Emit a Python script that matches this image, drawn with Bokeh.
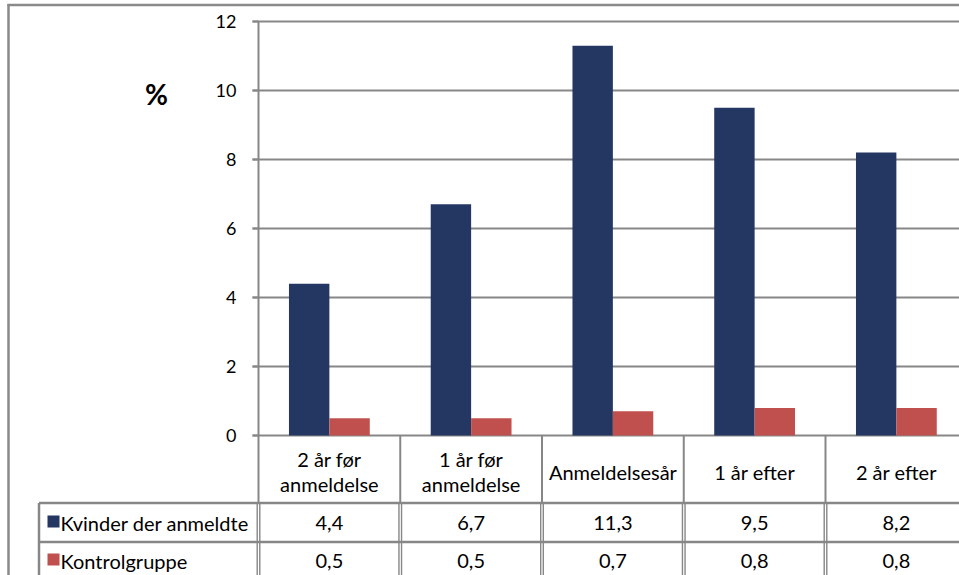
from bokeh.plotting import figure
from bokeh.models import FixedTicker, Range1d
from bokeh.core.properties import value
from bokeh.embed import file_html
from bokeh.resources import INLINE

# ---------------- data ----------------
categories = ["2 år før\nanmeldelse", "1 år før\nanmeldelse", "Anmeldelsesår", "1 år efter", "2 år efter"]
series_names = ["Kvinder der anmeldte", "Kontrolgruppe"]
kvinder = [4.4, 6.7, 11.3, 9.5, 8.2]
kontrol = [0.5, 0.5, 0.7, 0.8, 0.8]
y_ticks = [0, 2, 4, 6, 8, 10, 12]
y_title = "%"

NAVY = "#243763"
RED = "#C0504D"
GRID = "#878787"
FONT = "Lato"
FS_TICK = "18px"
FS = "20px"

# ---------------- layout helpers (canvas pixel -> data) ----------------
W, H = 959, 575
PX_X, PX_Y = 141.75, 34.5
OX, OY = 258.0, 435.0


def dx(px):
    return (px - OX) / PX_X


def dy(py):
    return (OY - py) / PX_Y


p = figure(width=W, height=H, output_backend="svg", toolbar_location=None,
           x_range=Range1d(dx(0), dx(W)), y_range=Range1d(dy(H), dy(0)),
           x_axis_location=None, y_axis_location="left",
           min_border=0, min_border_left=0, min_border_right=0,
           min_border_top=0, min_border_bottom=0)
p.outline_line_color = None
p.background_fill_color = "white"
p.border_fill_color = "white"
p.xgrid.visible = False
p.ygrid.visible = False

# gridlines (0..12), starting at the tick marks
n = len(categories)
p.segment(x0=[dx(252)] * len(y_ticks), x1=[dx(W + 2)] * len(y_ticks), y0=y_ticks, y1=y_ticks,
          line_color=GRID, line_width=2)

# bars
bw = 0.285
centers = [i + 0.5 for i in range(n)]
p.vbar(x=[c - bw / 2 for c in centers], top=kvinder, width=bw, bottom=0,
       fill_color=NAVY, line_color=None)
p.vbar(x=[c + bw / 2 for c in centers], top=kontrol, width=bw, bottom=0,
       fill_color=RED, line_color=None)

# y axis at category boundary 0
ax = p.yaxis[0]
ax.fixed_location = 0
ax.ticker = FixedTicker(ticks=y_ticks)
ax.bounds = (0, 12)
ax.axis_line_color = GRID
ax.axis_line_width = 2
ax.major_tick_line_color = GRID
ax.major_tick_line_width = 2
ax.major_tick_out = 6
ax.major_tick_in = 0
ax.minor_tick_line_color = None
ax.major_label_standoff = 16
ax.major_label_text_font = FONT
ax.major_label_text_font_size = FS_TICK
ax.major_label_text_color = "black"

# y title
p.text(x=[dx(156)], y=[dy(93)], text=[y_title], text_font=value(FONT), text_font_style="bold",
       text_font_size="28px", text_align="center", text_baseline="middle", text_color="black")

# ---------------- data table ----------------
row1_bot = dy(502.5)
row2_bot = dy(541.5)
bottom = dy(H + 5)
left_tab = dx(38.5)
right_end = dx(W + 3)

# row 1 vertical separators (single)
p.segment(x0=list(range(0, n)), x1=list(range(0, n)), y0=[0] * n, y1=[row1_bot] * n,
          line_color=GRID, line_width=2)
# rows 2-3 vertical separators (double)
vx = list(range(0, n))
p.segment(x0=vx, x1=vx, y0=[row1_bot] * n, y1=[bottom] * n, line_color=GRID, line_width=4)
p.segment(x0=vx, x1=vx, y0=[row1_bot] * n, y1=[bottom] * n, line_color="white", line_width=1.2)
# left edge of label column
p.segment(x0=[left_tab], x1=[left_tab], y0=[row1_bot], y1=[bottom], line_color=GRID, line_width=2.5)
# horizontal row separators
p.segment(x0=[left_tab, left_tab], x1=[right_end, right_end], y0=[row1_bot, row2_bot],
          y1=[row1_bot, row2_bot], line_color=GRID, line_width=2.5)

# category labels
p.text(x=centers, y=[dy(471)] * n, text=categories, text_font=value(FONT), text_font_size=FS,
       text_align="center", text_baseline="middle", text_color="black", text_line_height=1.05)


def fmt(v):
    return f"{v:.1f}".replace(".", ",")


row_ys = [dy(522), dy(560)]
for vals, yy in zip([kvinder, kontrol], row_ys):
    p.text(x=centers, y=[yy] * n, text=[fmt(v) for v in vals], text_font=value(FONT),
           text_font_size=FS, text_align="center", text_baseline="middle", text_color="black")

# row labels with legend keys
p.scatter(x=[dx(53)] * 2, y=[yy + 0.03 for yy in row_ys], marker="square", size=12,
          fill_color=[NAVY, RED], line_color=None)
p.text(x=[dx(60)] * 2, y=row_ys, text=series_names, text_font=value(FONT), text_font_size=FS,
       text_align="left", text_baseline="middle", text_color="black")

# outer chart border (top and left visible)
p.segment(x0=[dx(7), dx(8)], x1=[dx(W + 2), dx(8)], y0=[dy(4.5), dy(3.5)], y1=[dy(4.5), dy(H + 2)],
          line_color="#8a8a8a", line_width=2.5)

open("out.html", "w").write(file_html(p, INLINE))
